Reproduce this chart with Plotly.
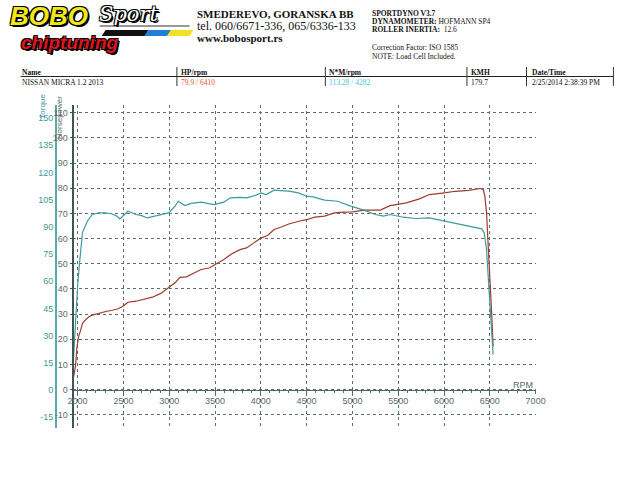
import plotly.graph_objects as go

# ---------------- data ----------------
rpm_hp = [1950, 1976, 1994, 2011, 2035, 2053, 2089, 2124, 2160, 2213,
          2270, 2319, 2380, 2443, 2496, 2550, 2638, 2727, 2816, 2904,
          2993, 3064, 3117, 3188, 3277, 3348, 3436, 3507, 3596, 3684,
          3773, 3844, 3915, 4004, 4074, 4145, 4216, 4305, 4376, 4411,
          4500, 4589, 4696, 4804, 4911, 5000, 5125, 5304, 5411, 5589,
          5732, 5839, 5982, 6125, 6268, 6393, 6429, 6446, 6464, 6482,
          6500, 6518, 6536]
hp = [3.8, 9.1, 17.0, 21.0, 23.8, 26.3, 27.8, 28.9, 29.6, 30.2,
      30.7, 31.1, 31.5, 32.1, 33.1, 34.7, 35.1, 36.0, 36.7, 38.1,
      40.4, 42.4, 44.6, 44.8, 46.4, 47.7, 48.3, 49.7, 51.7, 54.0,
      55.6, 56.3, 58.0, 60.3, 61.2, 63.6, 64.5, 65.8, 66.5, 66.9,
      67.5, 68.5, 68.9, 70.2, 70.5, 70.6, 71.3, 71.3, 73.1, 74.2,
      75.8, 77.5, 78.1, 78.8, 79.2, 79.9, 79.5, 76.8, 70.2, 58.3,
      45.0, 31.8, 17.2]

rpm_tq = [1947, 1965, 1983, 2000, 2018, 2036, 2053, 2106, 2160, 2231,
          2300, 2372, 2426, 2462, 2500, 2550, 2638, 2700, 2762, 2886,
          2993, 3064, 3099, 3170, 3241, 3348, 3489, 3596, 3667, 3773,
          3844, 3915, 4004, 4057, 4145, 4216, 4305, 4411, 4500, 4571,
          4696, 4839, 4982, 5125, 5250, 5339, 5411, 5554, 5696, 5839,
          5982, 6125, 6268, 6411, 6439, 6464, 6482, 6500, 6518, 6536]
torque = [9.5, 27.8, 42.6, 57.2, 68.3, 79.3, 86.8, 93.1, 96.8, 97.7,
          97.7, 97.2, 96.0, 94.4, 96.0, 98.6, 96.8, 96.2, 94.9, 96.2,
          97.7, 101.4, 104.1, 101.7, 102.9, 103.6, 102.3, 103.6, 106.0, 106.3,
          106.0, 106.9, 108.7, 107.8, 110.2, 110.0, 109.7, 108.7, 106.9, 106.5,
          104.7, 104.1, 101.4, 99.2, 96.8, 95.9, 96.8, 95.3, 94.6, 94.9,
          93.5, 91.8, 90.3, 88.9, 86.7, 77.5, 62.8, 49.9, 35.2, 19.6]

x_ticks = [2000, 2500, 3000, 3500, 4000, 4500, 5000, 5500, 6000, 6500, 7000]
hp_ticks = [-10, 0, 10, 20, 30, 40, 50, 60, 70, 80, 90, 100, 110]
tq_ticks = [-15, 0, 15, 30, 45, 60, 75, 90, 105, 120, 135, 150]

header_cols = ["Name", "HP/rpm", "N*M/rpm", "KMH", "Date/Time"]
header_vals = ["NISSAN MICRA 1.2 2013", "79.9 / 6410", "113.28 / 4282", "179.7", "2/25/2014 2:38:39 PM"]

W, H = 640, 493
def px(x):
    return x / W
def py(y):
    return 1 - y / H

HP_COLOR = "#9e3b2c"
TQ_COLOR = "#3f9a9a"
AX_DARK = "#3f5656"
GRID = "#5d6e6e"
TICKC = "#5a6a6a"

fig = go.Figure()
fig.add_trace(go.Scatter(x=rpm_tq, y=torque, mode="lines", yaxis="y2",
                         line=dict(color=TQ_COLOR, width=1.2), showlegend=False))
fig.add_trace(go.Scatter(x=rpm_hp, y=hp, mode="lines", yaxis="y",
                         line=dict(color=HP_COLOR, width=1.2), showlegend=False))

tick_font = dict(family="Liberation Sans, Arial, sans-serif", size=9, color=TICKC)

fig.update_layout(
    width=W, height=H,
    margin=dict(l=0, r=0, t=0, b=0),
    paper_bgcolor="white", plot_bgcolor="white",
    xaxis=dict(domain=[px(69), px(543)], range=[1954, 7007],
               anchor="free", position=py(389.5),
               tickvals=x_ticks, ticktext=[str(v) for v in x_ticks],
               showgrid=True, gridcolor=GRID, griddash="dot", gridwidth=1,
               showline=True, linecolor="#4f6a6a", linewidth=1.2,
               ticks="outside", ticklen=3, tickcolor="#4f6a6a",
               minor=dict(dtick=100, ticks="outside", ticklen=2, tickcolor="#4f6a6a", showgrid=False),
               tickfont=tick_font, zeroline=False),
    yaxis=dict(domain=[py(428), py(105)], range=[-15.3, 113.1],
               anchor="free", position=px(69),
               tickvals=hp_ticks, ticktext=[str(v) for v in hp_ticks],
               showgrid=True, gridcolor=GRID, griddash="dot", gridwidth=1,
               showline=True, linecolor=AX_DARK, linewidth=1.5,
               ticks="outside", ticklen=3, tickcolor=AX_DARK,
               tickfont=tick_font, zeroline=False),
    yaxis2=dict(overlaying="y", side="left", anchor="free", position=px(51),
                range=[-20.96, 157.2],
                tickvals=tq_ticks, ticktext=[str(v) for v in tq_ticks],
                showgrid=False, zeroline=False,
                showline=True, linecolor="#5aa8a8", linewidth=1.5,
                ticks="", tickfont=dict(family="Liberation Sans, Arial, sans-serif", size=9, color=TQ_COLOR)),
)

ann = []
# axis titles
ann.append(dict(x=px(37), y=py(121), xref="paper", yref="paper", text="Torque", textangle=-90,
                showarrow=False, xanchor="center", yanchor="bottom",
                font=dict(family="Liberation Sans, Arial, sans-serif", size=8, color=TQ_COLOR)))
ann.append(dict(x=px(55), y=py(141), xref="paper", yref="paper", text="Horsepower", textangle=-90,
                showarrow=False, xanchor="center", yanchor="bottom",
                font=dict(family="Liberation Sans, Arial, sans-serif", size=8, color=TICKC)))
ann.append(dict(x=px(529), y=py(385), xref="paper", yref="paper", text="RPM", showarrow=False,
                xanchor="center", yanchor="middle", font=tick_font))

# logo
outline = "1px 1px 0 #000, -1px -1px 0 #000, 1px -1px 0 #000, -1px 1px 0 #000, 2px 2px 0 #000"
ann.append(dict(x=px(3), y=py(16), xref="paper", yref="paper", text="<b><i>BOBO</i></b>", showarrow=False,
                xanchor="left", yanchor="middle", borderpad=0,
                font=dict(family="Liberation Sans, Arial, sans-serif", size=26, color="#f3e816", shadow=outline)))
ann.append(dict(x=px(94), y=py(14), xref="paper", yref="paper", text="<i>Sport</i>", showarrow=False,
                xanchor="left", yanchor="middle", borderpad=0,
                font=dict(family="DejaVu Serif, serif", size=21, color="#ffffff", shadow=outline)))
ann.append(dict(x=px(14), y=py(42), xref="paper", yref="paper", text="<b><i>chiptuning</i></b>", showarrow=False,
                xanchor="left", yanchor="middle", borderpad=0,
                font=dict(family="Liberation Sans, Arial, sans-serif", size=19, color="#e0141c", shadow=outline)))

# address block
serif = "Liberation Serif, Times New Roman, serif"
ann.append(dict(x=px(194), y=py(14), xref="paper", yref="paper", text="<b>SMEDEREVO, GORANSKA BB</b>",
                showarrow=False, xanchor="left", yanchor="middle", font=dict(family=serif, size=11, color="#111")))
ann.append(dict(x=px(194), y=py(26), xref="paper", yref="paper", text="tel. 060/6671-336, 065/6336-133",
                showarrow=False, xanchor="left", yanchor="middle", font=dict(family=serif, size=12, color="#111")))
ann.append(dict(x=px(194), y=py(38), xref="paper", yref="paper", text="<b>www.bobosport.rs</b>",
                showarrow=False, xanchor="left", yanchor="middle", font=dict(family=serif, size=11, color="#111")))

# dyno info
small = dict(family=serif, size=7.5, color="#111")
for txt, yy in [("<b>SPORTDYNO V3.7</b>", 13), ("<b>DYNAMOMETER:</b> HOFMANN SP4", 21),
                ("<b>ROLLER INERTIA:</b>  12.6", 29), ("Correction Factor: ISO 1585", 47),
                ("NOTE: Load Cell Included.", 56)]:
    ann.append(dict(x=px(373), y=py(yy), xref="paper", yref="paper", text=txt, showarrow=False,
                    xanchor="left", yanchor="middle", font=small))

# table
col_x = [14, 177, 329, 474, 537]
val_colors = ["#111", "#e8512b", "#3cc8dc", "#111", "#111"]
for cx, h, v, c in zip(col_x, header_cols, header_vals, val_colors):
    ann.append(dict(x=px(cx), y=py(72), xref="paper", yref="paper", text="<b>" + h + "</b>", showarrow=False,
                    xanchor="left", yanchor="middle", font=small))
    ann.append(dict(x=px(cx), y=py(82), xref="paper", yref="paper", text=v, showarrow=False,
                    xanchor="left", yanchor="middle", font=dict(family=serif, size=7.5, color=c)))

shapes = []
shapes.append(dict(type="line", xref="paper", yref="paper", x0=px(15), x1=px(622), y0=py(76.5), y1=py(76.5),
                   line=dict(color="#222", width=1)))
for vx in [175, 327, 472, 533, 622]:
    shapes.append(dict(type="line", xref="paper", yref="paper", x0=px(vx), x1=px(vx), y0=py(67), y1=py(86),
                       line=dict(color="#333", width=1)))

# logo stripes
def para(x0, x1, col):
    return dict(type="path", xref="paper", yref="paper",
                path=f"M {px(x0)},{py(36)} L {px(x0+4)},{py(30)} L {px(x1+4)},{py(30)} L {px(x1)},{py(36)} Z",
                fillcolor=col, line=dict(width=0))
shapes.append(dict(type="line", xref="paper", yref="paper", x0=px(96), x1=px(188), y0=py(26), y1=py(26),
                   line=dict(color="#777", width=1.5)))
shapes.append(para(98, 142, "#111111"))
shapes.append(para(142, 165, "#1f7fd6"))
shapes.append(para(165, 188, "#f3e020"))

fig.update_layout(annotations=ann, shapes=shapes)

fig.write_html("out.html", config={"displayModeBar": False},
               post_script="document.body.style.margin='0px';document.body.style.padding='0px';")
